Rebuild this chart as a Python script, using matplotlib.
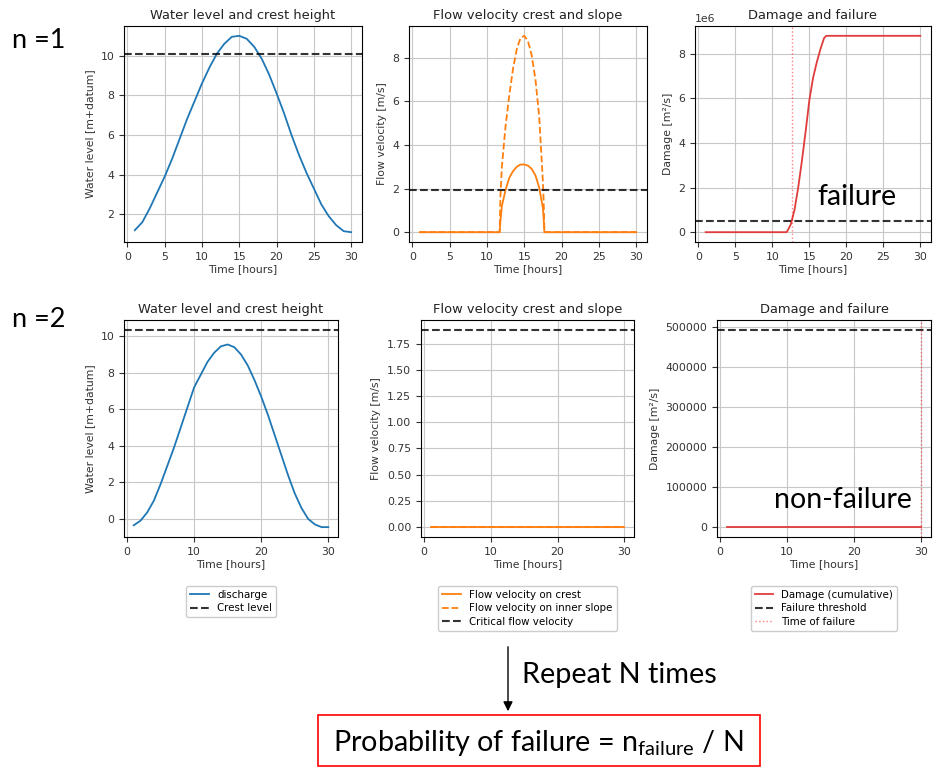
import matplotlib
matplotlib.use("Agg")
import matplotlib.pyplot as plt
from matplotlib.patches import FancyArrowPatch, Rectangle

plt.rcParams['font.family'] = ['DejaVu Sans']
plt.rcParams['mathtext.fontset'] = 'custom'
plt.rcParams['mathtext.rm'] = 'Lato'
plt.rcParams['grid.color'] = '#c8c8c8'

# ---- data ----
hours = list(range(1, 31))

# n = 1
level_n1 = [1.2, 1.6, 2.3, 3.1, 3.9, 4.8, 5.8, 6.8, 7.7, 8.6,
            9.4, 10.1, 10.6, 10.95, 11.0, 10.85, 10.45, 9.85, 9.05, 8.1,
            7.1, 6.0, 5.0, 4.1, 3.3, 2.5, 1.9, 1.45, 1.15, 1.1]
crest_n1 = 10.1
vel_t_n1 = [1, 11.7, 11.8, 12.0, 12.5, 13.0, 13.5, 14.0, 14.5, 15.0,
            15.5, 16.0, 16.5, 17.0, 17.5, 17.6, 17.7, 30]
vel_crest_n1 = [0, 0, 0.5, 1.2, 1.95, 2.5, 2.8, 3.0, 3.1, 3.1,
                3.05, 2.9, 2.6, 2.05, 1.1, 0.6, 0, 0]
vel_slope_n1 = [0, 0, 1.6, 3.0, 4.9, 6.3, 7.5, 8.4, 8.9, 9.0,
                8.75, 8.1, 7.0, 5.3, 2.3, 1.4, 0, 0]
vel_crit_n1 = 1.95
dmg_t_n1 = [1, 11.9, 12.0, 12.5, 13.0, 13.5, 14.0, 14.5, 15.0, 15.5,
            16.0, 16.5, 17.0, 17.3, 30]
dmg_n1 = [0, 0, 0.03e6, 0.35e6, 1.0e6, 2.0e6, 3.2e6, 4.5e6, 5.9e6, 6.9e6,
          7.6e6, 8.2e6, 8.7e6, 8.8e6, 8.8e6]
threshold_n1 = 0.5e6
t_fail_n1 = 12.65

# n = 2
level_n2 = [-0.35, -0.1, 0.35, 1.0, 1.9, 2.9, 3.9, 5.0, 6.1, 7.2,
            7.9, 8.6, 9.1, 9.45, 9.55, 9.4, 9.0, 8.4, 7.6, 6.7,
            5.7, 4.6, 3.5, 2.4, 1.4, 0.6, 0.0, -0.3, -0.45, -0.45]
crest_n2 = 10.35
vel_t_n2 = [1, 30]
vel_crest_n2 = [0, 0]
vel_slope_n2 = [0, 0]
vel_crit_n2 = 1.88
dmg_t_n2 = [1, 30]
dmg_n2 = [0, 0]
threshold_n2 = 492000
t_fail_n2 = 30

W, H = 934, 767
fig = plt.figure(figsize=(W / 100, H / 100), dpi=100)


def box(x0, y0, x1, y1):
    return [x0 / W, 1 - y1 / H, (x1 - x0) / W, (y1 - y0) / H]


TS, LS, KS, GS = 9.4, 7.8, 7.8, 7.4   # title, label, tick, legend sizes
dash = dict(color='k', ls='--', alpha=0.8, lw=1.5)


def style(ax, title, ylabel, xticks):
    ax.set_title(title, fontsize=TS, color='#222222', pad=5)
    ax.set_xlabel('Time [hours]', fontsize=LS, color='#333333', labelpad=2)
    ax.set_ylabel(ylabel, fontsize=LS, color='#333333')
    ax.set_xticks(xticks)
    ax.tick_params(labelsize=KS, colors='#333333')
    ax.yaxis.get_offset_text().set_fontsize(KS)
    ax.grid(True)


rows = [
    (26, 242, [(124, 362), (409, 647), (695, 931)], [0, 5, 10, 15, 20, 25, 30],
     level_n1, crest_n1, vel_t_n1, vel_crest_n1, vel_slope_n1, vel_crit_n1,
     dmg_t_n1, dmg_n1, threshold_n1, t_fail_n1),
    (320, 537, [(124, 338), (421, 634), (717, 931)], [0, 10, 20, 30],
     level_n2, crest_n2, vel_t_n2, vel_crest_n2, vel_slope_n2, vel_crit_n2,
     dmg_t_n2, dmg_n2, threshold_n2, t_fail_n2),
]

for i, (ytop, ybot, xs, xt, lev, crest, vt, vc, vs, vcrit, dt, dm, thr, tf) in enumerate(rows):
    ax1 = fig.add_axes(box(xs[0][0], ytop, xs[0][1], ybot))
    ax1.plot(hours, lev, color='tab:blue', lw=1.3, label='discharge')
    ax1.axhline(crest, label='Crest level', **dash)
    style(ax1, 'Water level and crest height', 'Water level [m+datum]', xt)

    ax2 = fig.add_axes(box(xs[1][0], ytop, xs[1][1], ybot))
    ax2.plot(vt, vc, color='tab:orange', lw=1.3, label='Flow velocity on crest')
    ax2.plot(vt, vs, color='tab:orange', ls='--', lw=1.3, label='Flow velocity on inner slope')
    ax2.axhline(vcrit, label='Critical flow velocity', **dash)
    style(ax2, 'Flow velocity crest and slope', 'Flow velocity [m/s]', xt)

    ax3 = fig.add_axes(box(xs[2][0], ytop, xs[2][1], ybot))
    ax3.plot(dt, dm, color='#e03c3c', lw=1.3, label='Damage (cumulative)')
    ax3.axhline(thr, label='Failure threshold', **dash)
    ax3.axvline(tf, color='red', ls=':', lw=1, alpha=0.5, label='Time of failure')
    style(ax3, 'Damage and failure', 'Damage [m²/s]', xt)

    if i == 1:
        for ax in (ax1, ax2, ax3):
            ax.legend(loc='upper center', bbox_to_anchor=(0.5, -0.2),
                      fontsize=GS, framealpha=1, borderpad=0.4,
                      labelspacing=0.35, handlelength=1.8)

big = dict(family='Lato', color='black')
fig.text(12 / W, 1 - 48 / H, 'n =1', fontsize=19.5, va='baseline', **big)
fig.text(12 / W, 1 - 327 / H, 'n =2', fontsize=19.5, va='baseline', **big)
fig.text(817 / W, 1 - 205 / H, 'failure', fontsize=20.5, va='baseline', **big)
fig.text(774 / W, 1 - 508 / H, 'non-failure', fontsize=20.5, va='baseline', **big)

arrow = FancyArrowPatch((508 / W, 1 - 644 / H), (508 / W, 1 - 714 / H),
                        transform=fig.transFigure, arrowstyle='-|>',
                        mutation_scale=14, color='black', lw=1)
fig.patches.append(arrow)
fig.text(522 / W, 1 - 683 / H, 'Repeat N times', fontsize=20.8, va='baseline', **big)

fig.patches.append(Rectangle((318 / W, 1 - 766 / H), 442 / W, 51 / H,
                             transform=fig.transFigure, fill=False,
                             ec='red', lw=1.2))
fig.text(333 / W, 1 - 751 / H, r'Probability of failure = n$_{\mathrm{failure}}$ / N',
         fontsize=20.7, va='baseline', **big)

fig.savefig('out.png', dpi=100)
